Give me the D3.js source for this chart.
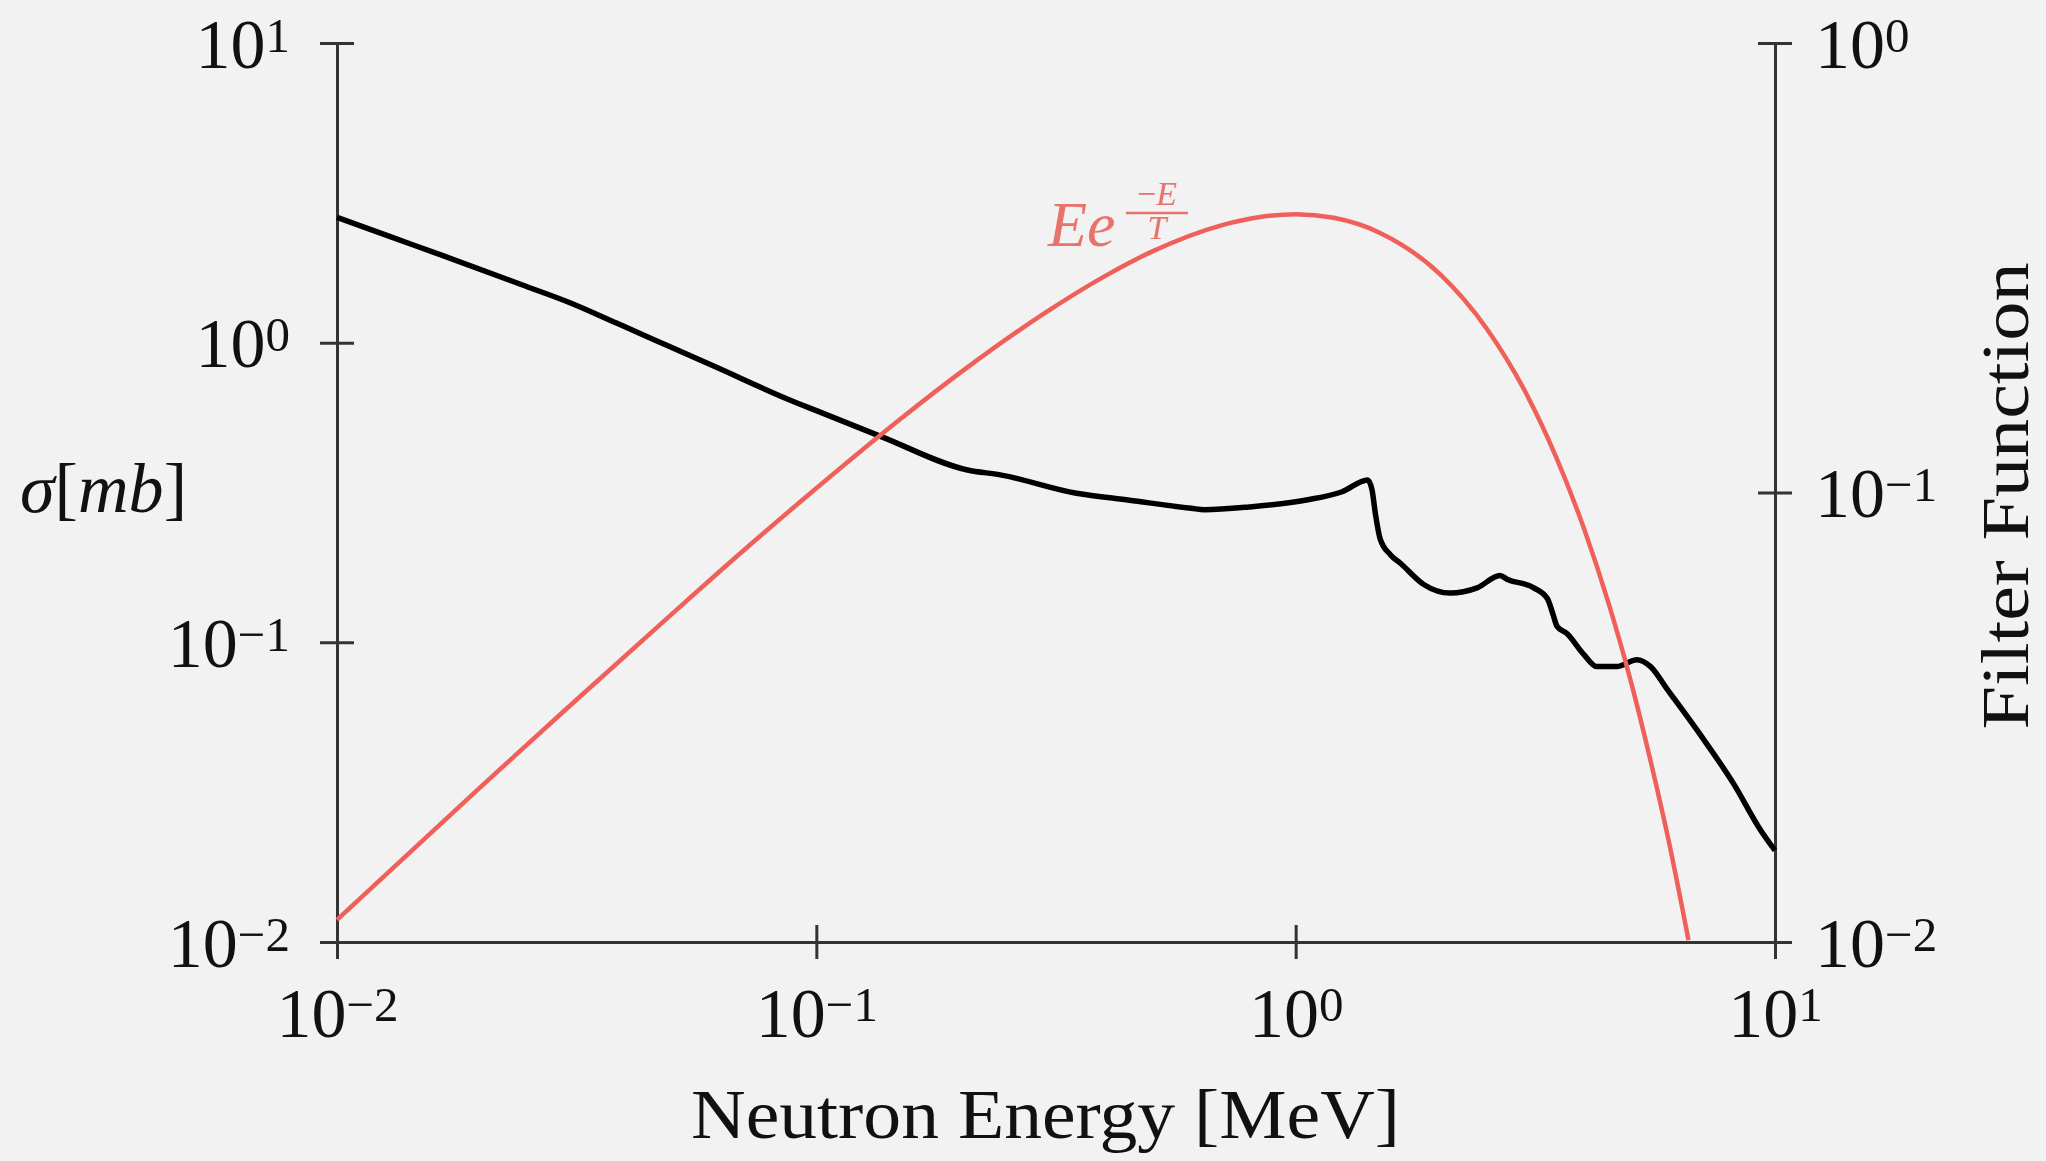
<!DOCTYPE html>
<html><head><meta charset="utf-8">
<script src="https://cdn.jsdelivr.net/npm/d3@7"></script>
<style>
html,body{margin:0;padding:0;background:#f2f2f2;}
svg{display:block;}
text{font-family:"Liberation Serif","Times New Roman",serif;fill:#111;}
</style></head><body>
<svg id="chart" width="2046" height="1161"></svg>
<script>
// Cross section sigma [mb] vs neutron energy [MeV] (left axis)
const energy = [0.0100, 0.0130, 0.0168, 0.0243, 0.0308, 0.0384, 0.0486, 0.0614, 0.0880, 0.100, 0.1366, 0.2067, 0.242, 0.349, 0.45, 0.606, 0.645, 0.80, 1.053, 1.25, 1.413, 1.443, 1.467, 1.50, 1.576, 1.654, 1.85, 2.10, 2.39, 2.67, 2.76, 3.14, 3.35, 3.45, 3.51, 3.68, 3.99, 4.25, 4.68, 5.15, 5.50, 5.96, 6.99, 8.20, 9.32, 10.0];
const sigma  = [2.62, 2.25, 1.94, 1.56, 1.354, 1.16, 0.982, 0.832, 0.644, 0.593, 0.486, 0.376, 0.362, 0.3145, 0.298, 0.280, 0.277, 0.283, 0.2985, 0.318, 0.348, 0.323, 0.268, 0.222, 0.196, 0.1836, 0.156, 0.146, 0.152, 0.167, 0.1625, 0.152, 0.140, 0.1226, 0.113, 0.107, 0.0912, 0.083, 0.083, 0.0875, 0.083, 0.0697, 0.0491, 0.0337, 0.0237, 0.0202];

// Filter function E e^{-E/T} (right axis)
const filterEnergy = [0.01, 0.02, 0.03, 0.05, 0.07, 0.1, 0.15, 0.2, 0.3, 0.4, 0.5, 0.7, 0.85, 1.0, 1.2, 1.5, 2, 2.5, 3, 3.5, 4, 4.5, 5, 5.5, 6, 6.6];
const filterValue  = [0.0112, 0.0222, 0.0329, 0.0537, 0.0738, 0.1022, 0.1459, 0.185, 0.251, 0.303, 0.343, 0.393, 0.4105, 0.416, 0.4084, 0.378, 0.306, 0.232, 0.169, 0.1194, 0.0828, 0.0565, 0.0381, 0.0253, 0.0168, 0.0101];

// Tick values and labels
const xTicks = [0.01, 0.1, 1, 10];
const xTickExp = ["\u22122", "\u22121", "0", "1"];
const leftTicks = [0.01, 0.1, 1, 10];
const leftTickExp = ["\u22122", "\u22121", "0", "1"];
const rightTicks = [0.01, 0.1, 1];
const rightTickExp = ["\u22122", "\u22121", "0"];

const W = 2046, H = 1161;
const plot = {x0: 337, x1: 1775, y0: 43, y1: 942};
const axisColor = "#333";
const redColor = "#f0605a";

const svg = d3.select("#chart");
svg.append("rect").attr("width", W).attr("height", H).attr("fill", "#f2f2f2");

const x = d3.scaleLog().domain([0.01, 10]).range([plot.x0, plot.x1]);
const yL = d3.scaleLog().domain([0.01, 10]).range([plot.y1, plot.y0]);
const yR = d3.scaleLog().domain([0.01, 1]).range([plot.y1, plot.y0]);

function styleAxis(g) {
  g.select(".domain").attr("stroke", axisColor).attr("stroke-width", 3);
  g.selectAll(".tick line").attr("stroke", axisColor).attr("stroke-width", 3);
  g.selectAll(".tick text").remove();
}
function addPowLabel(sel, exps, opts) {
  sel.each(function(d, i) {
    const t = d3.select(this).append("text")
      .attr("x", opts.x).attr("y", opts.y)
      .attr("text-anchor", opts.anchor)
      .attr("font-size", 70)
      .attr("fill", "#111");
    t.append("tspan").text("10");
    t.append("tspan").attr("font-size", 49).attr("dy", -16).text(exps[i]);
  });
}

// Bottom axis
const gx = svg.append("g").attr("transform", `translate(0,${plot.y1})`)
  .call(d3.axisBottom(x).tickValues(xTicks).tickSizeOuter(0).tickSize(17).tickFormat(() => ""));
styleAxis(gx);
gx.selectAll(".tick line").attr("y1", -17).attr("y2", 17);
addPowLabel(gx.selectAll(".tick"), xTickExp, {x: 0, y: 95, anchor: "middle"});

// Left axis
const gl = svg.append("g").attr("transform", `translate(${plot.x0},0)`)
  .call(d3.axisLeft(yL).tickValues(leftTicks).tickSizeOuter(0).tickSize(17).tickFormat(() => ""));
styleAxis(gl);
gl.selectAll(".tick line").attr("x1", -17).attr("x2", 17);
addPowLabel(gl.selectAll(".tick"), leftTickExp, {x: -47, y: 24, anchor: "end"});

// Right axis
const gr = svg.append("g").attr("transform", `translate(${plot.x1},0)`)
  .call(d3.axisRight(yR).tickValues(rightTicks).tickSizeOuter(0).tickSize(17).tickFormat(() => ""));
styleAxis(gr);
gr.selectAll(".tick line").attr("x1", -17).attr("x2", 17);
addPowLabel(gr.selectAll(".tick"), rightTickExp, {x: 40, y: 24, anchor: "start"});

// Data
const sigmaData = energy.map((e, i) => ({e, v: sigma[i]}));
const filterData = filterEnergy.map((e, i) => ({e, v: filterValue[i]}));

svg.append("path").datum(sigmaData)
  .attr("fill", "none").attr("stroke", "#000").attr("stroke-width", 5.5)
  .attr("stroke-linejoin", "round")
  .attr("d", d3.line().x(d => x(d.e)).y(d => yL(d.v)).curve(d3.curveMonotoneX));

svg.append("path").datum(filterData)
  .attr("fill", "none").attr("stroke", redColor).attr("stroke-width", 4.5)
  .attr("d", d3.line().x(d => x(d.e)).y(d => yR(d.v)).curve(d3.curveMonotoneX));

// Red annotation E e^{-E/T}
const labelRed = "#e8726c";
svg.append("text").attr("x", 1048).attr("y", 246).attr("font-size", 64)
  .attr("font-style", "italic").style("fill", labelRed).text("Ee");
svg.append("text").attr("x", 1157).attr("y", 205).attr("font-size", 34)
  .attr("text-anchor", "middle").style("fill", labelRed)
  .call(t => { t.append("tspan").text("\u2212"); t.append("tspan").attr("font-style", "italic").text("E"); });
svg.append("line").attr("x1", 1126).attr("x2", 1188).attr("y1", 213).attr("y2", 213)
  .attr("stroke", labelRed).attr("stroke-width", 2.5);
svg.append("text").attr("x", 1157).attr("y", 239).attr("font-size", 34)
  .attr("text-anchor", "middle").attr("font-style", "italic").style("fill", labelRed).text("T");

// Axis titles
svg.append("text").attr("x", 691).attr("y", 1138).attr("font-size", 70)
  .attr("textLength", 709).attr("lengthAdjust", "spacingAndGlyphs")
  .text("Neutron Energy [MeV]");

const yt = svg.append("text").attr("x", 20).attr("y", 512).attr("font-size", 70)
  .attr("textLength", 167).attr("lengthAdjust", "spacingAndGlyphs");
yt.append("tspan").attr("font-style", "italic").text("\u03C3");
yt.append("tspan").text("[");
yt.append("tspan").attr("font-style", "italic").text("mb");
yt.append("tspan").text("]");

svg.append("text").attr("transform", "translate(2028,496) rotate(-90)")
  .attr("text-anchor", "middle").attr("font-size", 68)
  .attr("textLength", 467).attr("lengthAdjust", "spacingAndGlyphs")
  .text("Filter Function");
</script>
</body></html>
